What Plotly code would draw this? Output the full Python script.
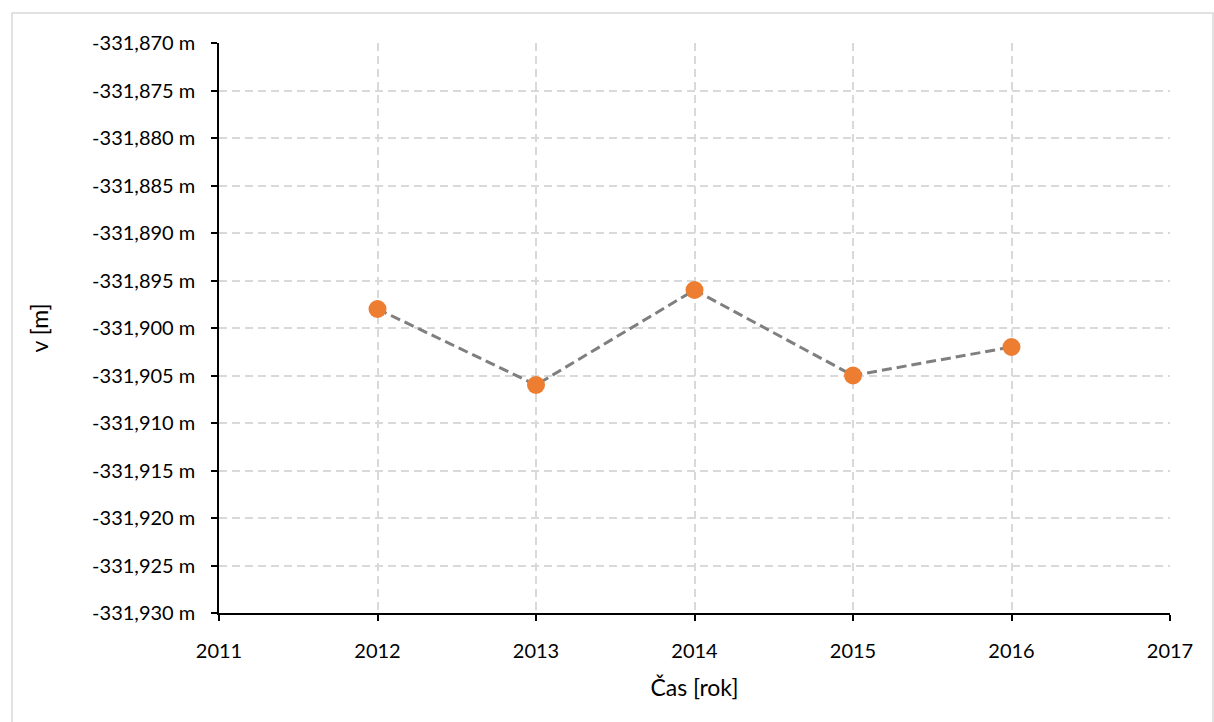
import plotly.graph_objects as go

# Yearly vertical coordinate measurements
years = [2012, 2013, 2014, 2015, 2016]
v_values = [-331.898, -331.906, -331.896, -331.905, -331.902]

# Axis ticks
x_ticks = [2011, 2012, 2013, 2014, 2015, 2016, 2017]
y_ticks = [-331.870, -331.875, -331.880, -331.885, -331.890, -331.895,
           -331.900, -331.905, -331.910, -331.915, -331.920, -331.925, -331.930]
y_tick_text = [("-" if v < 0 else "") + f"{abs(v):.3f}".replace(".", ",") + " m" for v in y_ticks]

FONT = "Lato, 'Open Sans', sans-serif"
GRID = "#d9d9d9"

fig = go.Figure()
fig.add_trace(go.Scatter(
    x=years, y=v_values,
    mode="lines+markers",
    line=dict(color="#7f7f7f", width=3, dash="10px,5px"),
    marker=dict(color="#ed7d31", size=18, line=dict(width=0)),
    showlegend=False,
))

axis_common = dict(
    showgrid=True, gridcolor=GRID, gridwidth=2, griddash="8px,5px",
    showline=True, linecolor="black", linewidth=1.5,
    ticks="outside", ticklen=6, tickcolor="black", tickwidth=1.5,
    zeroline=False, tickfont=dict(size=20),
)

fig.update_layout(
    width=1214, height=722,
    margin=dict(l=219, r=44, t=43, b=109),
    paper_bgcolor="white", plot_bgcolor="white",
    font=dict(family=FONT, size=20, color="#000000"),
    xaxis=dict(
        range=[2011, 2017], tickvals=x_ticks, ticktext=[str(t) for t in x_ticks],
        ticklabelstandoff=13,
        title=dict(text="Čas [rok]", font=dict(size=23), standoff=19),
        **axis_common,
    ),
    yaxis=dict(
        range=[y_ticks[-1], y_ticks[0]], tickvals=y_ticks, ticktext=y_tick_text,
        ticklabelstandoff=12,
        title=dict(text="v [m]", font=dict(size=23), standoff=37),
        **axis_common,
    ),
    shapes=[dict(
        type="rect", xref="paper", yref="paper",
        x0=-0.2177, x1=1.0452, y0=-0.3, y1=1.0526,
        line=dict(color=GRID, width=1.5), fillcolor="rgba(0,0,0,0)", layer="below",
    )],
)

fig.write_html("out.html")
